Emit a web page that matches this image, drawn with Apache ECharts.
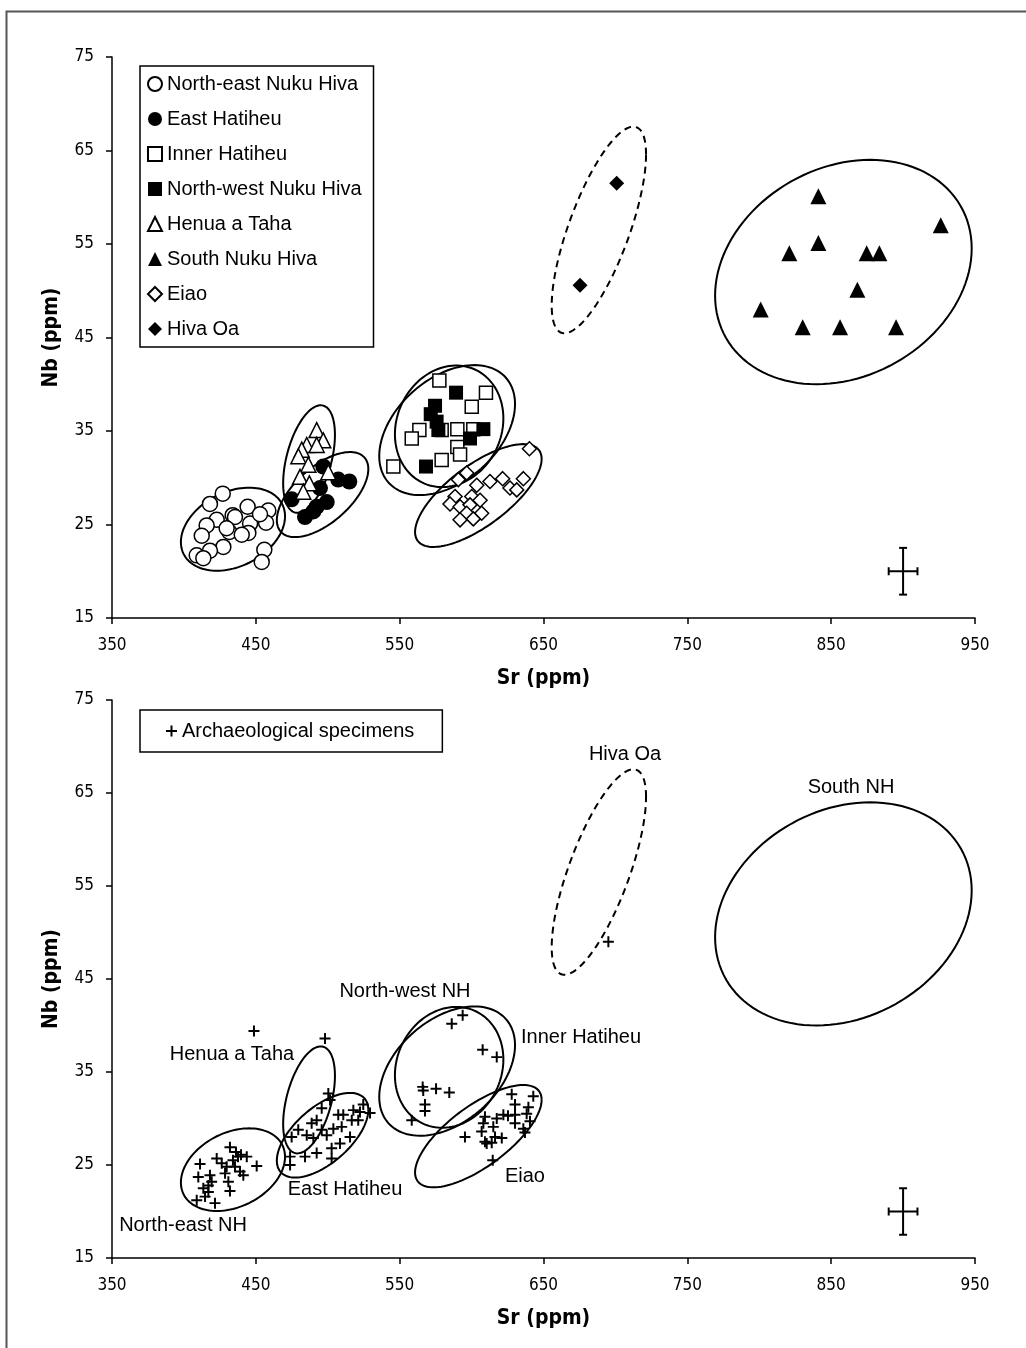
<!DOCTYPE html>
<html><head><meta charset="utf-8">
<script src="https://cdn.jsdelivr.net/npm/echarts@6/dist/echarts.min.js"></script>
<style>html,body{margin:0;padding:0;background:#fff}#c{width:1026px;height:1348px}</style>
</head><body><div id="c"></div>
<script>
// ---------- data (Sr ppm, Nb ppm) ----------
const xTicks = [350, 450, 550, 650, 750, 850, 950];
const yTicks = [15, 25, 35, 45, 55, 65, 75];
const seriesNames = ['North-east Nuku Hiva','East Hatiheu','Inner Hatiheu','North-west Nuku Hiva','Henua a Taha','South Nuku Hiva','Eiao','Hiva Oa'];

const neNukuHiva = [[427.0,28.3],[418.1,27.2],[444.3,26.9],[458.7,26.5],[433.9,26.0],[422.8,25.5],[415.8,24.9],[446.0,25.1],[457.1,25.2],[452.9,26.1],[412.4,23.8],[431.6,24.2],[444.8,24.1],[427.4,22.6],[418.1,22.2],[408.9,21.7],[413.5,21.4],[455.9,22.3],[454.1,21.0],[440.2,23.9],[435.5,25.8],[429.7,24.6]];
const eastHatiheu = [[474.9,27.7],[484.2,25.8],[490.0,26.4],[494.6,28.9],[499.3,27.4],[496.9,31.2],[507.3,29.8],[515.0,29.6],[492.3,26.9]];
const innerHatiheu = [[577.6,40.4],[610.0,39.1],[600.1,37.6],[563.7,35.1],[558.4,34.2],[590.1,35.2],[601.2,35.2],[590.1,33.3],[592.0,32.5],[579.2,31.9],[545.6,31.2],[579.2,35.1]];
const nwNukuHiva = [[589.2,39.1],[574.6,37.7],[571.6,36.8],[575.7,36.0],[576.9,35.1],[608.2,35.2],[598.9,34.2],[568.3,31.2]];
const henuaATaha = [[492.3,35.1],[496.9,34.0],[485.4,33.5],[492.3,33.5],[481.9,33.0],[479.6,32.3],[486.5,31.4],[500.4,30.6],[480.7,30.1],[487.2,29.4],[483.0,28.5]];
const southNukuHiva = [[841.1,60.1],[926.2,57.0],[841.1,55.1],[820.9,54.0],[874.7,54.0],[883.5,54.0],[868.2,50.1],[801.0,48.0],[830.2,46.1],[856.2,46.1],[895.1,46.1]];
const eiao = [[640.2,33.1],[596.6,30.5],[590.8,29.8],[612.8,29.6],[621.6,29.9],[636.0,29.9],[626.7,28.9],[631.4,28.7],[603.6,29.2],[600.1,28.0],[588.5,28.0],[585.0,27.2],[592.0,26.9],[598.9,27.1],[605.9,27.6],[596.6,26.2],[607.0,26.2],[592.0,25.5],[601.2,25.6]];
const hivaOa = [[700.9,61.5],[675.4,50.6]];

const archaeological = [
[432.0,26.9],[436.2,26.4],[439.7,26.1],[437.6,25.9],[443.7,25.9],[450.6,24.9],[422.8,25.7],[426.3,25.2],[411.2,25.1],[429.7,24.8],[435.5,24.8],[439.0,24.3],[441.3,23.9],[428.6,24.1],[418.1,23.9],[410.0,23.7],[419.3,23.2],[430.9,23.2],[413.5,22.5],[432.0,22.2],[417.0,22.1],[408.9,21.2],[414.7,21.6],[421.6,20.9],[417.0,22.8],[434.1,25.5],
[448.7,39.4],[498.1,38.6],[500.4,32.7],[501.6,32.0],[495.8,31.1],[492.3,29.8],[488.8,29.5],[485.4,28.2],[479.5,28.8],[474.9,28.0],[473.8,25.9],[473.8,25.0],[490.0,27.9],[484.2,25.9],[492.3,26.3],[502.7,26.8],[502.7,25.7],[508.5,27.3],[499.3,28.2],[503.9,28.9],[507.3,30.4],[509.7,29.1],[515.5,28.0],[516.7,29.8],[517.8,30.9],[522.4,30.7],[524.7,31.5],[529.4,30.6],[521.2,29.8],[510.8,30.4],[495.8,28.8],
[593.8,41.1],[586.2,40.2],[607.7,37.4],[617.5,36.6],[566.0,33.4],[566.4,33.0],[575.3,33.2],[584.5,32.8],[567.6,31.5],[567.6,30.8],[558.4,29.8],
[627.9,32.6],[642.9,32.4],[630.2,31.5],[639.5,31.2],[609.3,30.2],[617.5,30.0],[622.1,30.4],[625.3,30.3],[630.2,30.4],[638.3,30.5],[630.2,29.5],[640.6,29.7],[636.0,28.9],[608.2,29.5],[615.1,29.1],[637.1,28.5],[607.0,28.6],[616.3,28.0],[621.0,27.9],[609.3,27.5],[614.0,27.4],[595.4,28.0],[614.7,25.5],[610.5,27.3],
[695.1,49.0]];

// group ellipses: [centre Sr, centre Nb, half-range Sr, half-range Nb, correlation, dashed]
const ellipseNames = ['North-east NH','Henua a Taha','East Hatiheu','Inner Hatiheu','North-west NH','Eiao','Hiva Oa','South NH'];
const ellipseParams = [
[434.1,24.5,36.2,4.44,0.31,0],
[487.0,32.0,18.0,5.75,0.45,0],
[496.4,28.2,31.8,4.55,0.60,0],
[583.0,35.1,47.2,6.95,0.40,0],
[584.4,35.5,37.7,6.50,0.13,0],
[604.7,28.1,44.0,5.50,0.71,0],
[688.5,56.5,32.8,11.05,0.73,1],
[858.5,52.0,89.2,12.0,0.21,0]];

// analytical uncertainty: [Sr, Nb, ±Sr, ±Nb]
const errorBar = [[900, 20, 10, 2.5]];

// region labels of the lower panel (anchor in Sr, Nb)
const regionLabels = ['Hiva Oa','South NH','North-west NH','Inner Hatiheu','Henua a Taha','East Hatiheu','Eiao','North-east NH'];
const regionLabelAt = [[706.7,69.1],[863.8,65.6],[553.7,43.7],[676.1,38.7],[433.4,36.9],[512.0,22.4],[637.1,23.8],[399.4,18.5]];

// ---------- chart ----------
const tickFont = "'Liberation Sans Narrow','DejaVu Sans Condensed',sans-serif";
const textFont = "'Liberation Sans',Arial,sans-serif";
const chart = echarts.init(document.getElementById('c'), null, {renderer:'canvas'});

function xAxis(gi){return {gridIndex:gi,type:'value',min:xTicks[0],max:xTicks[xTicks.length-1],interval:xTicks[1]-xTicks[0],
  name:'Sr (ppm)',nameLocation:'middle',nameGap:50,nameTextStyle:{fontFamily:tickFont,fontWeight:'bold',fontSize:21,color:'#000'},
  axisLine:{lineStyle:{color:'#000',width:1.5}},axisTick:{show:true,length:6,lineStyle:{color:'#000',width:1.5}},
  axisLabel:{color:'#000',fontFamily:tickFont,fontSize:17,margin:19},splitLine:{show:false}};}
function yAxis(gi){return {gridIndex:gi,type:'value',min:yTicks[0],max:yTicks[yTicks.length-1],interval:yTicks[1]-yTicks[0],
  name:'Nb (ppm)',nameLocation:'middle',nameGap:50,nameTextStyle:{fontFamily:tickFont,fontWeight:'bold',fontSize:21,color:'#000'},
  axisLine:{lineStyle:{color:'#000',width:1.5}},axisTick:{show:true,length:6,lineStyle:{color:'#000',width:1.5}},
  axisLabel:{color:'#000',fontFamily:tickFont,fontSize:17,margin:18},splitLine:{show:false}};}

function ellipseSeries(gi){
  return {type:'custom',xAxisIndex:gi,yAxisIndex:gi,silent:true,z:3,
    data:ellipseParams,
    renderItem:function(params,api){
      const cx=api.value(0),cy=api.value(1),w=api.value(2),h=api.value(3),r=api.value(4),dash=api.value(5);
      const pts=[];const n=120;const s=Math.sqrt(1-r*r);
      for(let i=0;i<=n;i++){const t=2*Math.PI*i/n;
        pts.push(api.coord([cx+w*Math.cos(t), cy+h*(r*Math.cos(t)+s*Math.sin(t))]));}
      return {type:'polyline',shape:{points:pts},
        style:{fill:null,stroke:'#000',lineWidth:2,lineDash:dash?[7,5]:null}};
    }};
}
function errorSeries(gi){
  return {type:'custom',xAxisIndex:gi,yAxisIndex:gi,silent:true,z:3,data:errorBar,
    renderItem:function(params,api){
      const x=api.value(0),y=api.value(1),dx=api.value(2),dy=api.value(3);
      const l=api.coord([x-dx,y]),r=api.coord([x+dx,y]),t=api.coord([x,y+dy]),b=api.coord([x,y-dy]);
      const st={stroke:'#000',lineWidth:2};const c=4;
      return {type:'group',children:[
        {type:'line',shape:{x1:l[0],y1:l[1],x2:r[0],y2:r[1]},style:st},
        {type:'line',shape:{x1:t[0],y1:t[1],x2:b[0],y2:b[1]},style:st},
        {type:'line',shape:{x1:l[0],y1:l[1]-c,x2:l[0],y2:l[1]+c},style:st},
        {type:'line',shape:{x1:r[0],y1:r[1]-c,x2:r[0],y2:r[1]+c},style:st},
        {type:'line',shape:{x1:t[0]-c,y1:t[1],x2:t[0]+c,y2:t[1]},style:st},
        {type:'line',shape:{x1:b[0]-c,y1:b[1],x2:b[0]+c,y2:b[1]},style:st}]};
    }};
}
const openSt={color:'#fff',borderColor:'#000',borderWidth:1.5,opacity:1};
const fillSt={color:'#000',borderColor:'#000',borderWidth:0,opacity:1};
function sc(name,data,symbol,size,style){return {name,type:'scatter',xAxisIndex:0,yAxisIndex:0,data,symbol,symbolSize:size,itemStyle:style,z:4};}
const plus='path://M4.1,0H5.9V4.1H10V5.9H5.9V10H4.1V5.9H0V4.1H4.1Z';

chart.setOption({
  animation:false,
  backgroundColor:'#fff',
  graphic:[{type:'rect',left:4,top:9,shape:{width:1040,height:1360},style:{fill:'none',stroke:'#555',lineWidth:2},silent:true}],
  grid:[{left:112,top:57,width:863,height:561},{left:112,top:700,width:863,height:558}],
  xAxis:[xAxis(0),xAxis(1)],
  yAxis:[yAxis(0),yAxis(1)],
  legend:[
    {data:seriesNames,orient:'vertical',left:140,top:66,itemGap:15,itemWidth:14,itemHeight:14,
     padding:[8,12,8,7],borderColor:'#000',borderWidth:1.5,backgroundColor:'#fff',
     textStyle:{fontFamily:textFont,fontSize:20,color:'#000',lineHeight:20},selectedMode:false},
    {data:['Archaeological specimens'],left:140,top:710,itemWidth:11,itemHeight:11,
     padding:[11,28,11,26],borderColor:'#000',borderWidth:1.5,backgroundColor:'#fff',
     textStyle:{fontFamily:textFont,fontSize:20,color:'#000',lineHeight:20},selectedMode:false}
  ],
  series:[
    ellipseSeries(0),ellipseSeries(1),errorSeries(0),errorSeries(1),
    sc(seriesNames[0],neNukuHiva,'circle',15,openSt),
    sc(seriesNames[1],eastHatiheu,'circle',16,fillSt),
    sc(seriesNames[2],innerHatiheu,'rect',13,openSt),
    sc(seriesNames[3],nwNukuHiva,'rect',14,fillSt),
    sc(seriesNames[4],henuaATaha,'triangle',15,openSt),
    sc(seriesNames[5],southNukuHiva,'triangle',16,fillSt),
    sc(seriesNames[6],eiao,'diamond',14,openSt),
    sc(seriesNames[7],hivaOa,'diamond',15,fillSt),
    {name:'Archaeological specimens',type:'scatter',xAxisIndex:1,yAxisIndex:1,data:archaeological,
     symbol:plus,symbolSize:11,itemStyle:{color:'#000',opacity:1},z:4},
    {type:'scatter',xAxisIndex:1,yAxisIndex:1,silent:true,symbolSize:0,z:5,itemStyle:{opacity:1},
     data:regionLabels.map((n,i)=>({name:n,value:regionLabelAt[i]})),
     label:{show:true,position:'inside',formatter:p=>p.name,color:'#000',fontFamily:textFont,fontSize:20}}
  ]
});
</script></body></html>
